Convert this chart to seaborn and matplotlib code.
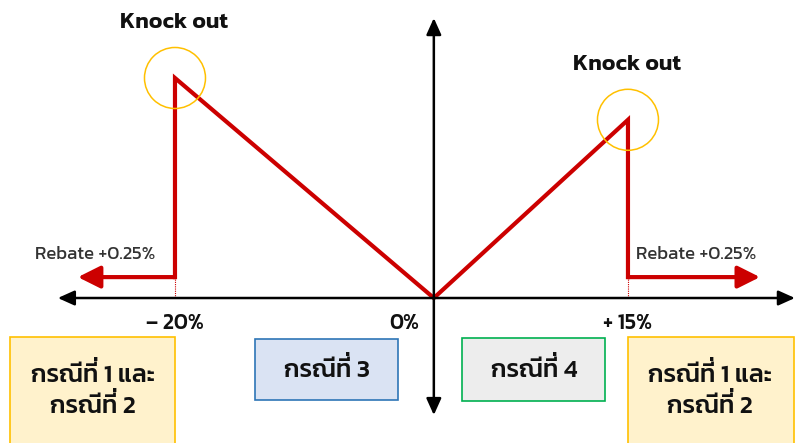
import matplotlib
matplotlib.use("Agg")
import matplotlib.pyplot as plt
import seaborn as sns
import pandas as pd
from matplotlib.patches import Rectangle

sns.set_theme(style="white")
plt.rcParams["font.family"] = ["Kanit", "DejaVu Sans"]

# ---------- data (schematic payoff, % of underlying move) ----------
barriers = [-20, 15]
tick_vals = [-20, 0, 15]
tick_labels = ["– 20%", "0%", "+ 15%"]
path_x = [-20, -20, 0, 15, 15]
path_y = [1.9, 20, 0, 16.2, 1.9]
knockout_y = [20, 16.2]
rebate_level = 1.9
rebate_ends = [-27.5, 25.2]
rebate_label = "Rebate +0.25%"
case_labels = ["กรณีที่ 1 และ\nกรณีที่ 2", "กรณีที่ 3", "กรณีที่ 4", "กรณีที่ 1 และ\nกรณีที่ 2"]

RED = "#CC0000"
GOLD = "#FFC000"
FW, FH = 797, 443
MAI_EK = "\u0e48"

fig = plt.figure(figsize=(FW / 100, FH / 100), dpi=100)
ax = fig.add_axes([0, 0, 1, 1])
ax.set_xlim(-33.52, 28.06)
ax.set_ylim(-13.18, 27.09)
ax.axis("off")
renderer = fig.canvas.get_renderer()

# axes arrows
axis_kw = dict(arrowstyle="<|-|>,head_length=1.0,head_width=0.45", mutation_scale=10,
               lw=1.8, color="black", shrinkA=0, shrinkB=0)
ax.annotate("", xy=(-29.05, 0), xytext=(27.9, 0), arrowprops=axis_kw)
ax.annotate("", xy=(0, 25.45), xytext=(0, -10.64), arrowprops=axis_kw)

# payoff path
df = pd.DataFrame({"move": path_x, "payoff": path_y})
sns.lineplot(data=df, x="move", y="payoff", sort=False, estimator=None, ax=ax,
             color=RED, lw=3, solid_capstyle="projecting", solid_joinstyle="miter")

# rebate arrows
for b, end in zip(barriers, rebate_ends):
    ax.annotate("", xy=(end, rebate_level), xytext=(b, rebate_level),
                arrowprops=dict(arrowstyle="-|>,head_length=0.9,head_width=0.45",
                                mutation_scale=15, lw=3, color=RED,
                                shrinkA=0, shrinkB=0))
    ax.plot([b, b], [0, rebate_level], color=RED, lw=0.8, ls=(0, (1, 1)))

# knock-out circles
ko = pd.DataFrame({"move": barriers, "payoff": knockout_y})
sns.scatterplot(data=ko, x="move", y="payoff", s=1930, facecolor="none",
                edgecolor=GOLD, linewidth=1.1, ax=ax, zorder=5)
for b, k in zip(barriers, knockout_y):
    ax.annotate("Knock out", xy=(b, k), xytext=(-1, 40), textcoords="offset points",
                ha="center", va="center", fontsize=16.5, fontweight="semibold", color="#111111")

# rebate labels
for b, dx in zip(barriers, [-57.6, 49]):
    ax.annotate(rebate_label, xy=(b, rebate_level), xytext=(dx, 16.5),
                textcoords="offset points", ha="center", va="center",
                fontsize=13.5, color="#333333")

# tick labels
for v, lab, dx in zip(tick_vals, tick_labels, [0, -21, 0]):
    ax.annotate(lab, xy=(v, 0), xytext=(dx, -18), textcoords="offset points",
                ha="center", va="center", fontsize=15.5, fontweight="medium", color="#111111")


def thai_line(x_px, y_px, s, size=18, lift=5):
    # matplotlib has no mark positioning, so the tone mark is drawn on its own, lifted
    kw = dict(fontsize=size, fontweight="medium", color="#111111", va="baseline", zorder=6)
    base = s.replace(MAI_EK, "")
    t = fig.text(x_px / FW, 1 - y_px / FH, base, ha="center", **kw)
    if MAI_EK not in s:
        return
    i = s.index(MAI_EK)
    probe = fig.text(0, 0, base[:i - 1], ha="left", **kw)
    w_pre = probe.get_window_extent(renderer).width
    probe.remove()
    w_full = t.get_window_extent(renderer).width
    xr = x_px - w_full / 2 + w_pre
    fig.text(xr / FW, 1 - (y_px - lift) / FH, MAI_EK, ha="right", **kw)


# case boxes (axes fraction)
boxes = [
    (0.0125, -0.05, 0.2071, 0.2893, "#FFF2CC", GOLD),
    (0.320, 0.0971, 0.1794, 0.1377, "#DAE3F3", "#2E75B6"),
    (0.5797, 0.0948, 0.1794, 0.1422, "#EDEDED", "#00B050"),
    (0.788, -0.05, 0.2083, 0.2893, "#FFF2CC", GOLD),
]
text_x = [93, 326.5, 534, 710]
text_base = [[382, 413], [377], [377], [382, 413]]
for (x0, y0, w, h, fc, ec), tx, bases, lab in zip(boxes, text_x, text_base, case_labels):
    ax.add_patch(Rectangle((x0, y0), w, h, transform=ax.transAxes, facecolor=fc,
                           edgecolor=ec, lw=1.2, clip_on=False))
    for line, yb in zip(lab.split("\n"), bases):
        thai_line(tx, yb, line)

fig.savefig("out.png", dpi=100)
